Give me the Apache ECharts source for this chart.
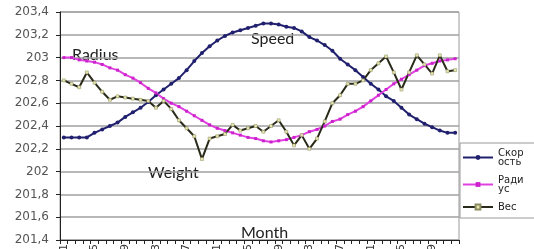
<!DOCTYPE html>
<html>
<head>
<meta charset="utf-8">
<script src="https://cdn.jsdelivr.net/npm/echarts@6/dist/echarts.min.js"></script>
<style>
html,body{margin:0;padding:0;background:#fff;}
#c{width:534px;height:249px;}
</style>
</head>
<body>
<div id="c"></div>
<script>
// Categories: week numbers
var weeks = [];
for (var k = 1; k <= 52; k++) weeks.push(String(k));

var speed = [202.30,202.30,202.30,202.30,202.34,202.37,202.40,202.43,202.48,202.52,
             202.56,202.61,202.67,202.72,202.77,202.82,202.89,202.97,203.04,203.10,
             203.15,203.19,203.22,203.24,203.26,203.28,203.30,203.30,203.29,203.27,
             203.26,203.23,203.18,203.15,203.11,203.06,202.99,202.94,202.89,202.83,
             202.77,202.72,202.66,202.62,202.56,202.50,202.46,202.42,202.39,202.36,
             202.34,202.34];

var radius = [203.00,203.00,202.98,202.97,202.96,202.94,202.91,202.89,202.85,202.82,
              202.78,202.73,202.69,202.64,202.60,202.57,202.53,202.49,202.45,202.41,
              202.38,202.36,202.34,202.32,202.30,202.29,202.27,202.26,202.27,202.28,
              202.30,202.32,202.35,202.37,202.40,202.44,202.46,202.50,202.53,202.57,
              202.62,202.67,202.72,202.77,202.81,202.85,202.89,202.93,202.95,202.97,
              202.98,202.99];

var weight = [202.80,202.77,202.74,202.87,202.78,202.70,202.63,202.66,202.65,202.64,
              202.63,202.62,202.56,202.62,202.55,202.45,202.38,202.31,202.11,202.29,
              202.31,202.33,202.41,202.36,202.38,202.40,202.35,202.40,202.45,202.35,
              202.23,202.32,202.20,202.29,202.44,202.60,202.67,202.77,202.77,202.80,
              202.89,202.95,203.01,202.87,202.72,202.87,203.02,202.94,202.86,203.02,
              202.88,202.89];

var seriesNames = ['Скорость', 'Радиус', 'Вес'];
var legendLabels = {'Скорость': 'Скор\nость', 'Радиус': 'Ради\nус', 'Вес': 'Вес'};

var chart = echarts.init(document.getElementById('c'), null, {renderer: 'canvas'});
chart.setOption({
  animation: false,
  backgroundColor: '#ffffff',
  grid: {left: 60, right: 75, top: 12, bottom: 9, show: true, borderColor: '#9a9a9a', borderWidth: 1,
         containLabel: false, outerBoundsMode: 'none'},
  xAxis: {
    type: 'category',
    data: weeks,
    boundaryGap: true,
    axisLine: {lineStyle: {color: '#222', width: 1}},
    axisTick: {show: true, interval: 0, length: 4, lineStyle: {color: '#222'}},
    axisLabel: {interval: 3, rotate: 90, margin: 4, fontSize: 11, color: '#333', fontFamily: 'DejaVu Sans'},
    splitLine: {show: false}
  },
  yAxis: {
    type: 'value',
    min: 201.4, max: 203.4, interval: 0.2,
    axisLine: {show: true, lineStyle: {color: '#222', width: 1}},
    axisTick: {show: true, length: 4, lineStyle: {color: '#222'}},
    axisLabel: {
      fontSize: 12, color: '#555', fontFamily: 'DejaVu Sans', margin: 11,
      formatter: function (v) { return String(Math.round(v * 10) / 10).replace('.', ','); }
    },
    splitLine: {show: true, lineStyle: {color: '#a0a0a0', width: 1.5}}
  },
  legend: {
    orient: 'vertical',
    left: 460, top: 143,
    data: seriesNames,
    itemWidth: 30, itemHeight: 6,
    itemGap: 8,
    padding: [5, 60, 6, 2],
    borderColor: '#999', borderWidth: 1,
    formatter: function (n) { return legendLabels[n]; },
    textStyle: {fontSize: 10, lineHeight: 9, color: '#222', fontFamily: 'DejaVu Sans'}
  },
  series: [
    {
      name: seriesNames[0], type: 'line', data: speed,
      symbol: 'circle', symbolSize: 4,
      lineStyle: {color: '#20206e', width: 2},
      itemStyle: {color: '#20206e'}
    },
    {
      name: seriesNames[1], type: 'line', data: radius,
      symbol: 'rect', symbolSize: 3,
      lineStyle: {color: '#e040e0', width: 2},
      itemStyle: {color: '#cc22cc'}
    },
    {
      name: seriesNames[2], type: 'line', data: weight,
      symbol: 'rect', symbolSize: 3,
      lineStyle: {color: '#2a2a1a', width: 2},
      itemStyle: {color: '#e8e8b0', borderColor: '#8a8a60', borderWidth: 0.5}
    }
  ],
  graphic: [
    {type: 'text', left: 72, top: 47, style: {text: 'Radius', font: '16px Lato', fill: '#222'}},
    {type: 'text', left: 251, top: 31, style: {text: 'Speed', font: '16px Lato', fill: '#222'}},
    {type: 'text', left: 148, top: 165, style: {text: 'Weight', font: '16px Lato', fill: '#222'}},
    {type: 'text', left: 241, top: 225, style: {text: 'Month', font: '16px Lato', fill: '#222'}}
  ]
});
</script>
</body>
</html>
